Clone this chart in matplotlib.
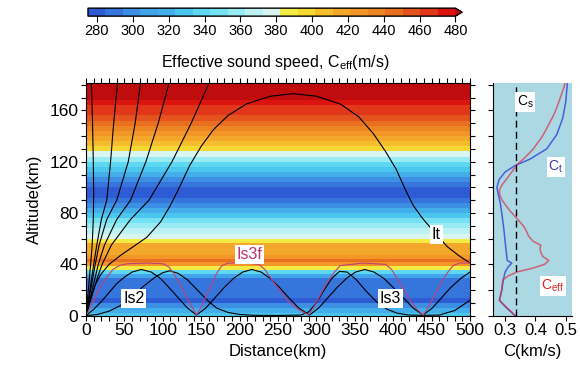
import numpy as np
import matplotlib
matplotlib.use("Agg")
import matplotlib.pyplot as plt
from matplotlib.colors import LinearSegmentedColormap, Normalize
from matplotlib.cm import ScalarMappable
from matplotlib.ticker import MultipleLocator

plt.rcParams['font.family'] = ['Liberation Sans', 'DejaVu Sans']
plt.rcParams['mathtext.fontset'] = 'custom'
plt.rcParams['mathtext.rm'] = 'Liberation Sans'
plt.rcParams['mathtext.it'] = 'Liberation Sans'
plt.rcParams['font.size'] = 10

# ---- atmospheric profiles (altitude in km, speeds in km/s) ----
alt = np.array([0, 4, 8, 12, 16, 20, 24, 28, 31, 34, 37, 40, 43, 46, 49, 52, 55,
                58, 62, 66, 70, 74, 78, 82, 86, 90, 94, 98, 102, 106, 110, 114,
                118, 122, 126, 130, 134, 138, 142, 146, 150, 154, 158, 162, 166,
                170, 174, 178, 181])
ceff = np.array([0.333, 0.316, 0.298, 0.281, 0.285, 0.289, 0.290, 0.293, 0.310,
                 0.338, 0.390, 0.430, 0.444, 0.425, 0.418, 0.415, 0.417, 0.392,
                 0.377, 0.370, 0.360, 0.345, 0.330, 0.315, 0.302, 0.290, 0.282,
                 0.281, 0.290, 0.303, 0.316, 0.328, 0.340, 0.360, 0.377, 0.393,
                 0.405, 0.418, 0.428, 0.437, 0.446, 0.455, 0.463, 0.470, 0.476,
                 0.482, 0.488, 0.494, 0.497])

ct_alt = np.array([0, 6, 12, 20, 28, 34, 38, 41, 43, 51, 60, 67, 78, 88, 96, 100,
                   106, 112, 117, 122, 130, 141, 154, 167, 181])
ct = np.array([0.333, 0.305, 0.281, 0.289, 0.294, 0.300, 0.310, 0.322, 0.307,
               0.303, 0.299, 0.296, 0.290, 0.284, 0.276, 0.273, 0.280, 0.300,
               0.333, 0.382, 0.437, 0.470, 0.490, 0.500, 0.505])

cs = 0.336

# ---- ray paths (distance km, altitude km) ----
ray1_x = [0, 1.5, 3, 4.5, 6, 8, 9.5, 10, 9.5, 8.5, 7]
ray1_z = [0, 10, 20, 30, 40, 55, 75, 95, 120, 150, 181]
ray2_x = [0, 2.5, 5, 7.5, 10, 14, 20, 27, 32, 36, 41]
ray2_z = [0, 10, 20, 30, 40, 55, 75, 90, 120, 150, 181]
ray3_x = [0, 3, 6, 9, 12, 17, 27, 40, 55, 64, 71]
ray3_z = [0, 10, 20, 30, 40, 55, 75, 90, 120, 150, 181]
ray4_x = [0, 4, 8, 12, 16, 24, 40, 58, 78, 94, 108]
ray4_z = [0, 10, 20, 30, 40, 55, 75, 90, 120, 150, 181]
ray5_x = [0, 5, 10, 15, 21, 33, 58, 82, 112, 137, 160]
ray5_z = [0, 10, 20, 30, 40, 55, 75, 90, 120, 150, 181]

it_x = [0, 6, 12, 19, 30, 45, 62, 79, 97, 109, 120, 135, 150, 166, 185, 209, 240,
        270, 300, 331, 355, 374, 390, 404, 416, 426, 438, 448, 460, 470, 485, 500]
it_z = [0, 14, 24, 32, 40, 47, 54, 61, 73, 85, 98, 117, 132, 145, 156, 165, 171,
        173, 171, 165, 155, 142, 128, 114, 98, 86, 76, 69, 61, 54, 47, 41]

is2_x = [0, 10, 20, 30, 40, 50, 60, 72, 85, 97, 108, 120, 132, 144, 156, 168, 180,
         192, 204, 216, 228, 240, 252, 264, 277, 291, 303, 315, 327, 339, 351,
         363, 375, 388, 400, 413, 426, 439, 451, 463, 475, 488, 500]
is2_z = [0, 5, 11, 18, 25, 30, 34, 36, 34, 29, 22, 14, 6, 0.5, 6, 14, 22, 29, 34,
         36, 34, 29, 22, 14, 6, 0.5, 6, 14, 22, 29, 34, 36, 34, 29, 22, 14, 6,
         0.5, 6, 14, 22, 29, 34]

low_x = [0, 15, 30, 45, 60, 75, 90, 100, 109, 120, 132, 145, 158, 170, 185, 200,
         220, 250, 280, 290, 300, 310, 320, 330, 340, 352, 365, 378, 392, 405,
         420, 440, 460, 480, 500]
low_z = [0, 1, 3.5, 8, 15, 23, 30, 33.5, 35, 33, 28, 20, 12, 6, 2.5, 1, 0.3, 0.2,
         0.5, 3, 10, 20, 29, 34.5, 34, 28, 19, 11, 5, 2, 0.5, 0.3, 0.5, 4, 12]

is3f_x = [0, 5, 10, 18, 27, 35, 45, 55, 80, 100, 108, 115, 122, 130, 138, 144,
          150, 157, 164, 170, 177, 185, 210, 225, 233, 242, 252, 262, 276, 290,
          297, 305, 313, 322, 331, 360, 390, 398, 406, 414, 422, 431, 439, 446,
          454, 462, 470, 478, 486, 500]
is3f_z = [0, 6, 12, 22, 30, 36, 39.5, 40.5, 41, 40.5, 38, 32, 25, 16, 7, 0.5, 7,
          16, 25, 33, 39, 41, 41, 40, 36, 28, 20, 12, 5, 0.5, 7, 16, 25, 33, 39,
          41, 40, 36, 28, 20, 12, 5, 0.5, 7, 16, 25, 33, 39, 41, 41]

# ---- colour scale ----
cb_ticks = [280, 300, 320, 340, 360, 380, 400, 420, 440, 460, 480]
anchors = [(0.000, '#2d5cd4'), (0.073, '#3a80e0'), (0.122, '#3f9ce8'),
           (0.220, '#45b3ea'), (0.268, '#4ed2f0'), (0.366, '#7ee4f2'),
           (0.439, '#b6f1f4'), (0.502, '#d9f6ef'), (0.537, '#f2ee48'),
           (0.610, '#f7d530'), (0.659, '#f5b82e'), (0.732, '#f29c28'),
           (0.805, '#ec8424'), (0.878, '#e6601e'), (0.951, '#e0361a'),
           (1.000, '#db1410')]
cmap = LinearSegmentedColormap.from_list('ceff', anchors, N=21)
cmap.set_over('#c00c0c')
norm = Normalize(275, 480)

fig = plt.figure(figsize=(5.80, 3.67), dpi=100)
ax = fig.add_axes([0.1483, 0.1398, 0.662, 0.633])
axr = fig.add_axes([0.850, 0.1398, 0.136, 0.633])
cax = fig.add_axes([0.1517, 0.956, 0.645, 0.0218])

# background stripes from the effective sound speed profile
edges = np.concatenate([[alt[0]], (alt[:-1] + alt[1:]) / 2, [alt[-1]]])
ax.pcolormesh([0, 500], edges, (ceff * 1000)[:, None], cmap=cmap, norm=norm,
              shading='flat')

lw = 0.8
for rx, rz in [(ray1_x, ray1_z), (ray2_x, ray2_z), (ray3_x, ray3_z),
               (ray4_x, ray4_z), (ray5_x, ray5_z), (it_x, it_z),
               (is2_x, is2_z), (low_x, low_z)]:
    ax.plot(rx, rz, color='black', lw=lw)
ax.plot(is3f_x, is3f_z, color='#c0407a', lw=lw)

box = dict(boxstyle='square,pad=0.12', fc='white', ec='none')
ax.text(62, 13.4, 'Is2', ha='center', va='center', fontsize=11.5, bbox=box)
ax.text(396, 13.4, 'Is3', ha='center', va='center', fontsize=11.5, bbox=box)
ax.text(213, 47.7, 'Is3f', ha='center', va='center', fontsize=11.5,
        color='#c0306a', bbox=box)
ax.text(456, 63.5, 'It', ha='center', va='center', fontsize=11.5, bbox=box)

ax.set_xlim(0, 500)
ax.set_ylim(0, 181)
ax.xaxis.set_major_locator(MultipleLocator(50))
ax.xaxis.set_minor_locator(MultipleLocator(10))
ax.yaxis.set_major_locator(MultipleLocator(40))
ax.yaxis.set_minor_locator(MultipleLocator(10))
ax.tick_params(which='both', direction='out', top=True, right=True,
               length=3.5, width=0.8, labelsize=12.5, pad=2)
ax.set_xlabel('Distance(km)', fontsize=12, labelpad=4)
ax.set_ylabel('Altitude(km)', fontsize=12, labelpad=5)

# right-hand profile panel (semi-transparent so overlapping parts blend)
axr.set_facecolor('#abd8e2')
axr.plot(ct, ct_alt, color='#3040e0', lw=1.1, alpha=0.8)
axr.plot(ceff, alt, color='#d8304a', lw=1.1, alpha=0.7)
axr.axvline(cs, color='black', lw=1.0, ls=(0, (5, 3)))
axr.set_xlim(0.26, 0.52)
axr.set_ylim(0, 181)
axr.set_xticks([0.3, 0.4, 0.5])
axr.set_xticklabels(['0.3', '0.4', '0.5'])
axr.yaxis.set_major_locator(MultipleLocator(20))
axr.tick_params(axis='y', direction='out', labelleft=False, length=3.5, width=0.8)
axr.tick_params(axis='x', direction='out', length=3.5, width=0.8, labelsize=12, pad=2)
axr.spines['top'].set_visible(False)
axr.spines['right'].set_visible(False)
axr.set_xlabel('C(km/s)', fontsize=12, labelpad=4)
axr.text(0.366, 166.5, r'C$_{\rm s}$', ha='center', va='center', fontsize=10, bbox=box)
axr.text(0.467, 116, r'C$_{\rm t}$', ha='center', va='center', fontsize=10,
         color='#3a3aa8', bbox=box)
axr.text(0.457, 23, r'C$_{\rm eff}$', ha='center', va='center', fontsize=10,
         color='#e02020', bbox=box)

# colour bar
cb = fig.colorbar(ScalarMappable(norm=norm, cmap=cmap), cax=cax,
                  orientation='horizontal', extend='max', extendfrac=0.018,
                  ticks=cb_ticks)
cb.outline.set_linewidth(1.0)
cax.tick_params(direction='out', length=4, width=0.8, labelsize=10.5, pad=2)
fig.text(275 / 580, 1 - 62 / 367, r'Effective sound speed, C$_{\rm eff}$(m/s)',
         ha='center', va='center', fontsize=11.5)

fig.savefig('out.png', dpi=100)
